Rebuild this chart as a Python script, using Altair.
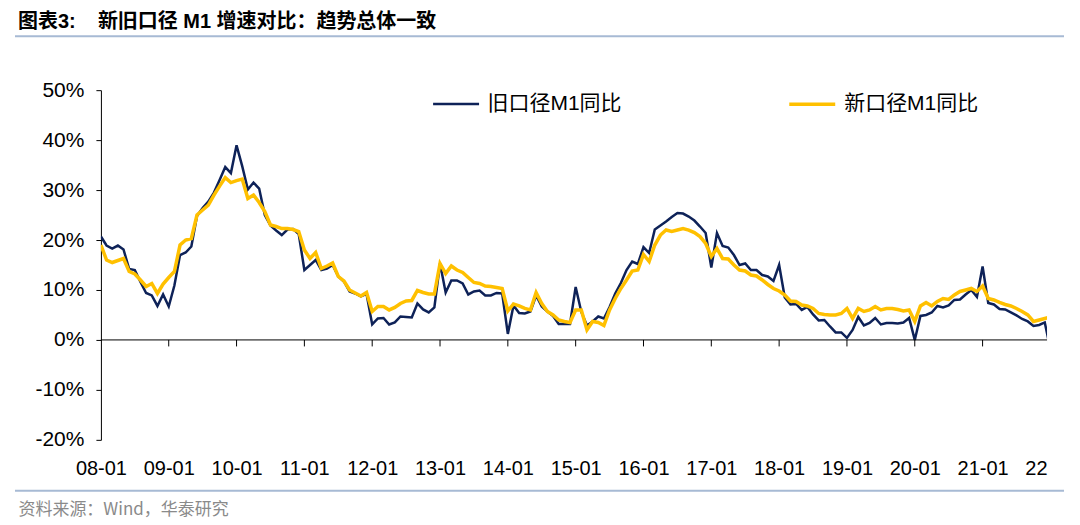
import altair as alt
import pandas as pd

# ---- data (monthly, 2008-01 .. 2022-01) ----
old_m1 = [
    20.7, 18.9, 18.3, 18.9, 18.1, 14.2, 14.0, 11.6, 9.4, 8.9, 6.8, 9.1,      # 2008
    6.7, 10.9, 17.0, 17.5, 18.7, 24.8, 26.4, 27.7, 29.5, 32.0, 34.6, 33.4,   # 2009
    38.96, 34.8, 30.1, 31.5, 30.3, 25.0, 22.9, 21.9, 21.0, 22.1, 22.2, 21.2, # 2010
    14.0, 15.0, 16.0, 14.0, 14.3, 15.0, 12.7, 11.7, 9.7, 9.3, 8.7, 9.2,      # 2011
    3.1, 4.3, 4.4, 3.1, 3.5, 4.7, 4.6, 4.5, 7.3, 6.1, 5.5, 6.5,              # 2012
    15.3, 9.5, 11.9, 11.9, 11.3, 9.1, 9.7, 9.9, 8.9, 8.9, 9.4, 9.3,          # 2013
    1.2, 6.9, 5.4, 5.3, 5.7, 8.9, 6.7, 5.7, 4.8, 3.2, 3.2, 3.2,              # 2014
    10.6, 5.6, 2.9, 3.7, 4.7, 4.3, 6.6, 9.3, 11.4, 14.0, 15.7, 15.2,         # 2015
    18.6, 17.4, 22.1, 22.9, 23.7, 24.6, 25.4, 25.3, 24.7, 23.9, 22.7, 21.4,  # 2016
    14.5, 21.4, 18.8, 18.5, 17.0, 15.0, 15.3, 14.0, 14.0, 13.0, 12.7, 11.8,  # 2017
    15.0, 8.5, 7.1, 7.2, 6.0, 6.6, 5.1, 3.9, 4.0, 2.7, 1.5, 1.5,             # 2018
    0.4, 2.0, 4.6, 2.9, 3.4, 4.4, 3.1, 3.4, 3.4, 3.3, 3.5, 4.4,              # 2019
    0.0, 4.8, 5.0, 5.5, 6.8, 6.5, 6.9, 8.0, 8.1, 9.1, 10.0, 8.6,             # 2020
    14.7, 7.4, 7.1, 6.2, 6.1, 5.5, 4.9, 4.2, 3.7, 2.8, 3.0, 3.5,             # 2021
    -1.9,                                                                    # 2022
]
new_m1 = [
    19.0, 16.0, 15.5, 15.9, 16.3, 13.7, 13.2, 12.0, 10.7, 11.3, 9.3, 11.2,   # 2008
    12.5, 13.7, 19.0, 20.0, 20.3, 25.0, 26.0, 27.0, 29.0, 30.8, 32.5, 31.5,  # 2009
    31.9, 32.2, 28.3, 29.0, 27.5, 25.7, 23.0, 22.7, 22.3, 22.3, 22.1, 21.7,  # 2010
    18.0, 16.3, 17.5, 14.3, 14.8, 15.4, 12.7, 11.8, 10.0, 9.4, 8.8, 9.5,     # 2011
    5.7, 6.7, 6.7, 6.0, 6.5, 7.3, 7.8, 7.9, 9.9, 9.5, 9.2, 9.2,              # 2012
    15.3, 13.3, 14.8, 14.0, 13.5, 12.5, 11.5, 11.3, 10.8, 10.7, 10.5, 10.3,  # 2013
    5.8, 7.2, 6.8, 6.3, 6.0, 9.5, 7.3, 5.7, 5.0, 4.0, 3.7, 3.5,              # 2014
    6.0, 6.0, 2.0, 3.7, 3.5, 2.9, 6.0, 8.3, 10.3, 12.0, 13.8, 14.0,          # 2015
    17.1, 15.7, 19.0, 21.0, 22.0, 21.7, 22.0, 22.3, 22.0, 21.5, 20.7, 19.3,  # 2016
    16.7, 18.3, 16.3, 16.2, 15.0, 14.0, 13.8, 13.0, 12.8, 12.0, 11.1, 10.3,  # 2017
    9.8, 9.0, 7.8, 7.7, 7.0, 6.8, 6.3, 5.3, 5.1, 5.0, 5.0, 5.3,              # 2018
    6.3, 4.3, 6.3, 5.7, 6.0, 6.7, 6.0, 6.3, 6.3, 6.1, 5.8, 6.0,              # 2019
    3.7, 6.8, 7.5, 6.8, 7.7, 8.3, 8.1, 9.0, 9.7, 10.0, 10.3, 9.7,            # 2020
    10.8, 8.3, 8.0, 7.5, 7.1, 6.8, 6.3, 5.7, 5.0, 3.7, 4.0, 4.3,             # 2021
    4.6,                                                                     # 2022
]
series_names = ["旧口径M1同比", "新口径M1同比"]
series_colors = ["#0e2258", "#ffc000"]
series_widths = [2.5, 3.5]
y_ticks = [-20, -10, 0, 10, 20, 30, 40, 50]
x_tick_months = [12 * i for i in range(14)]          # 08-01 .. 21-01
x_end = 167.4                                          # right edge of the plot (just before 22-01)

months = list(range(len(old_m1)))
df = pd.DataFrame({"m": months, series_names[0]: old_m1, series_names[1]: new_m1})
ticks_df = pd.DataFrame({"m": x_tick_months[1:]})
zero_df = pd.DataFrame({"a": [0.0], "b": [x_end], "y": [0.0]})

FONT = "Liberation Sans, Arial, Noto Sans CJK SC"
xscale = alt.Scale(domain=[0, x_end], nice=False, zero=False)
yscale = alt.Scale(domain=[-20, 50], nice=False)

label_expr = ("datum.value > 160 ? '22' : "
              "((floor(datum.value/12)+8) < 10 ? '0' : '') + (floor(datum.value/12)+8) + '-01'")

x_axis = alt.Axis(
    values=x_tick_months + [x_end], labelExpr=label_expr, domain=False, ticks=False,
    grid=False, labelFontSize=20, labelFont=FONT, labelColor="#000000", labelPadding=19,
    labelOverlap=False, labelBound=False, labelFlush=False,
    labelAlign={"condition": {"test": "datum.value > 160", "value": "right"}, "value": "center"},
    title="资料来源：Wind，华泰研究", titleX=-83, titleY=70, titleAlign="left",
    titleBaseline="middle", titleFontSize=17, titleFontWeight="normal",
    titleColor="#8a8a8a", titleFont="Noto Sans CJK SC",
)
y_axis = alt.Axis(
    values=y_ticks, labelExpr="datum.value + '%'", grid=False, domainColor="#000000",
    tickColor="#000000", tickSize=5, labelFontSize=21, labelFont=FONT, labelColor="#000000",
    labelPadding=12, title=None,
)

lines = alt.Chart(df).transform_fold(
    series_names, as_=["series", "value"]
).mark_line(clip=True).encode(
    x=alt.X("m:Q", scale=xscale, axis=x_axis),
    y=alt.Y("value:Q", scale=yscale, axis=y_axis),
    color=alt.Color("series:N", scale=alt.Scale(domain=series_names, range=series_colors),
                    legend=alt.Legend(
                        title=None, orient="none", direction="horizontal",
                        legendX=331, legendY=-11, symbolType="stroke",
                        symbolSize=2116, symbolStrokeWidth=3.5, labelFontSize=21,
                        labelFont=FONT, labelColor="#000000", labelOffset=7,
                        columnPadding=160, padding=0, labelLimit=300)),
    strokeWidth=alt.StrokeWidth("series:N", scale=alt.Scale(domain=series_names, range=series_widths),
                                legend=None),
)
zero_rule = alt.Chart(zero_df).mark_rule(color="#000000", strokeWidth=1).encode(
    x=alt.X("a:Q", scale=xscale), x2="b:Q", y=alt.Y("y:Q", scale=yscale))
tick_rules = alt.Chart(ticks_df).mark_rule(color="#000000", strokeWidth=1).encode(
    x=alt.X("m:Q", scale=xscale), y=alt.datum(0, scale=yscale), y2=alt.datum(-1.3))

main = alt.layer(lines, zero_rule, tick_rules)

deco = alt.Chart(pd.DataFrame({"k": [0, 1]})).mark_rule(color="#a7bad4", strokeWidth=2).encode(
    x=alt.value(-86), x2=alt.value(964),
    y=alt.Y("k:Q", scale=alt.Scale(domain=[0, 1], range=[-54, 401]), axis=None),
)

chart = alt.layer(deco, main).resolve_scale(
    y="independent"
).properties(
    width=947, height=350,
    autosize=alt.AutoSizeParams(type="none"),
    padding={"left": 93, "top": 82, "right": 25, "bottom": 92},
    title=alt.TitleParams(
        text="图表3:\u00a0\u00a0\u00a0\u00a0新旧口径 M1 增速对比：趋势总体一致",
        anchor="start", frame="group", dx=-83, offset=7, dy=20, fontSize=20,
        fontWeight="bold", font=FONT, color="#000000", baseline="alphabetic",
    ),
).configure_view(stroke=None)

chart.save("out.html", embed_options={"renderer": "svg", "actions": False})
